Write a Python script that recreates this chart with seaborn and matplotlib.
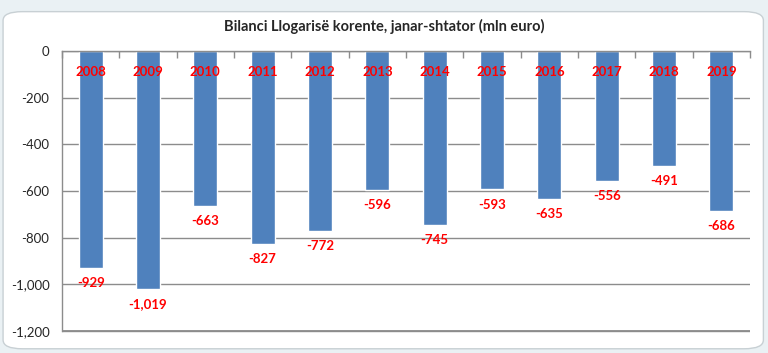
import numpy as np
import pandas as pd
import matplotlib
matplotlib.use("Agg")
import matplotlib.pyplot as plt
import seaborn as sns
from matplotlib.patches import FancyBboxPatch
from matplotlib.ticker import FuncFormatter

# Te dhenat
vitet = ["2008", "2009", "2010", "2011", "2012", "2013", "2014", "2015", "2016", "2017", "2018", "2019"]
bilanci = [-929, -1019, -663, -827, -772, -596, -745, -593, -635, -556, -491, -686]
titulli = "Bilanci Llogarisë korente, janar-shtator (mln euro)"

df = pd.DataFrame({"viti": vitet, "bilanci": bilanci})

sns.set_style("white")
plt.rcParams["font.family"] = ["Lato", "DejaVu Sans"]

fig = plt.figure(figsize=(7.68, 3.53), dpi=100)
fig.patch.set_facecolor("#eaf1f4")
# kutia e bardhe e grafikut
kutia = FancyBboxPatch((0.004, 0.012), 0.99, 0.955, boxstyle="round,pad=0,rounding_size=0.025",
                       transform=fig.transFigure, facecolor="white", edgecolor="#c8d0d4", lw=1,
                       zorder=-5)
fig.patches.append(kutia)

ax = fig.add_axes([0.0807, 0.0560, 0.896, 0.7995])
ax.set_zorder(2)
ax.set_facecolor("none")

sns.barplot(data=df, x="viti", y="bilanci", color="#4f81bd", width=0.42, saturation=1, ax=ax)

ax.set_ylim(-1210, 0)
ax.set_xlim(-0.5, len(vitet) - 0.5)
ax.set_yticks(np.arange(-1200, 1, 200))
ax.yaxis.set_major_formatter(FuncFormatter(lambda v, p: f"{int(v):,}"))
ax.grid(axis="y", color="#8c8c8c", lw=1)
ax.set_axisbelow(True)
ax.axhline(-1200, color="#8c8c8c", lw=1.3, zorder=0.5)

# boshti x lart me shenja midis kategorive
ax.xaxis.tick_top()
ax.set_xticks(np.arange(-0.5, len(vitet), 1))
ax.set_xticklabels([])
ax.tick_params(axis="x", direction="in", length=5, color="#8c8c8c", width=1)
ax.tick_params(axis="y", direction="out", length=5, color="#8c8c8c", width=1, labelsize=9.5, pad=4)

for s in ["right", "bottom"]:
    ax.spines[s].set_visible(False)
for s in ["left", "top"]:
    ax.spines[s].set_color("#8c8c8c")
    ax.spines[s].set_linewidth(1)
ax.spines["left"].set_bounds(-1200, 0)

ax.set_xlabel("")
ax.set_ylabel("")

for i, (v, b) in enumerate(zip(vitet, bilanci)):
    ax.text(i, -90, v, color="#ff0000", fontsize=9.5, fontweight="bold", ha="center", va="center")
    ax.annotate(f"{b:,}", (i, b), xytext=(0, -11), textcoords="offset points",
                color="#ff0000", fontsize=9.5, fontweight="bold", ha="center", va="center")

fig.text(0.5, 0.925, titulli, ha="center", va="center", fontsize=10.5, fontweight="bold")

plt.savefig("out.png", dpi=100)
